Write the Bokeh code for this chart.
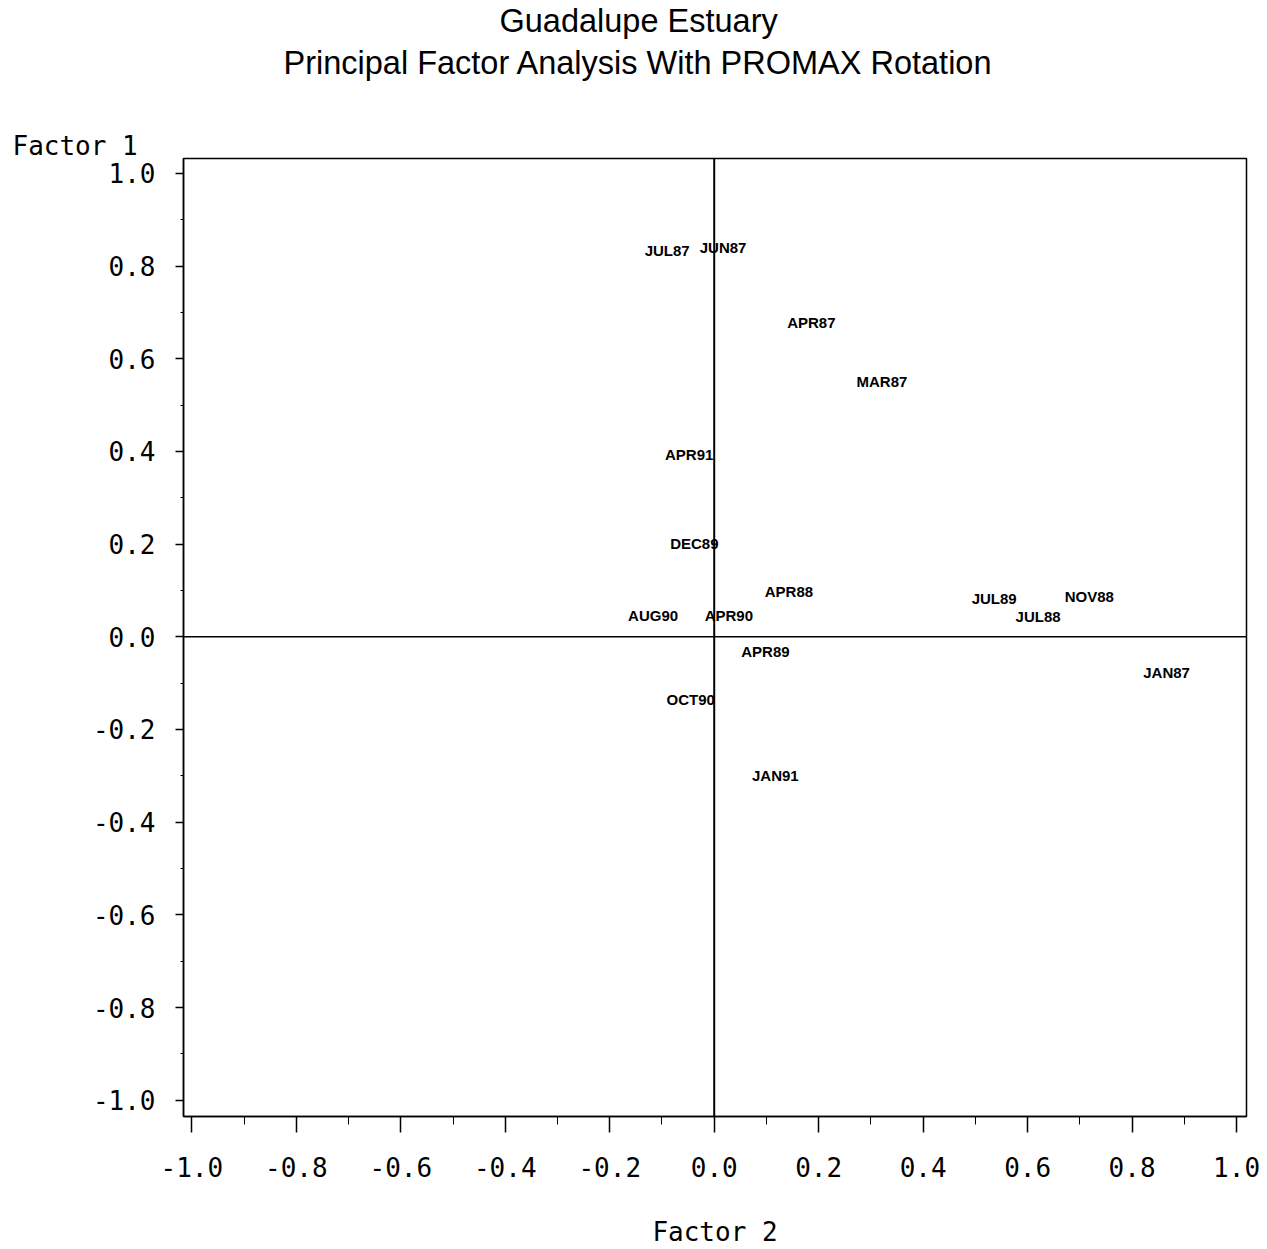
from bokeh.plotting import figure
from bokeh.models import ColumnDataSource, FixedTicker, Span, Range1d, Title
from bokeh.core.properties import value
from bokeh.embed import file_html
from bokeh.resources import INLINE

# Sampling dates and their rotated factor loadings
dates = ["JUL87", "JUN87", "APR87", "MAR87", "APR91", "DEC89", "APR88", "AUG90",
         "APR90", "JUL89", "NOV88", "JUL88", "APR89", "JAN87", "OCT90", "JAN91"]
factor2 = [-0.090, 0.017, 0.186, 0.321, -0.048, -0.038, 0.143, -0.117,
           0.028, 0.536, 0.718, 0.620, 0.098, 0.866, -0.045, 0.117]
factor1 = [0.833, 0.841, 0.679, 0.550, 0.393, 0.201, 0.097, 0.047,
           0.047, 0.082, 0.087, 0.043, -0.032, -0.076, -0.136, -0.300]

major_ticks = [-1.0, -0.8, -0.6, -0.4, -0.2, 0.0, 0.2, 0.4, 0.6, 0.8, 1.0]
minor_ticks = [-0.9, -0.7, -0.5, -0.3, -0.1, 0.1, 0.3, 0.5, 0.7, 0.9]
tick_labels = {t: f"{t:.1f}" for t in major_ticks}

mono = "DejaVu Sans Mono"
sans = "Liberation Sans"

p = figure(width=1267, height=1249, output_backend="svg", toolbar_location=None,
           x_range=Range1d(-1.016, 1.019), y_range=Range1d(-1.035, 1.032),
           min_border_left=183, min_border_right=21, min_border_top=10,
           min_border_bottom=10)
p.background_fill_color = "white"
p.border_fill_color = "white"
p.outline_line_color = "black"
p.outline_line_width = 1.5
p.xgrid.visible = False
p.ygrid.visible = False

for ax in (p.xaxis[0], p.yaxis[0]):
    ax.ticker = FixedTicker(ticks=major_ticks, minor_ticks=minor_ticks)
    ax.major_label_overrides = tick_labels
    ax.major_label_text_font = mono
    ax.major_label_text_font_size = "26px"
    ax.major_label_text_color = "black"
    ax.axis_line_color = "black"
    ax.axis_line_width = 1.5
    ax.major_tick_line_color = "black"
    ax.minor_tick_line_color = "black"
    ax.major_tick_line_width = 1.5
    ax.major_tick_in = 0
    ax.minor_tick_in = 0

p.xaxis.major_tick_out = 16
p.xaxis.minor_tick_out = 8
p.xaxis.major_label_standoff = 24
p.xaxis.axis_label = "Factor 2"
p.xaxis.axis_label_text_font = mono
p.xaxis.axis_label_text_font_size = "26px"
p.xaxis.axis_label_text_font_style = "normal"
p.xaxis.axis_label_text_color = "black"
p.xaxis.axis_label_standoff = 37
p.yaxis.major_tick_out = 8
p.yaxis.minor_tick_out = 3
p.yaxis.major_label_standoff = 20

# Reference axes through the origin
p.add_layout(Span(location=0, dimension="height", line_color="black", line_width=2))
p.add_layout(Span(location=0, dimension="width", line_color="black", line_width=1.5))

src = ColumnDataSource(dict(x=factor2, y=factor1, label=dates))
p.text(x="x", y="y", text="label", source=src, text_font=value(sans),
       text_font_style="bold", text_font_size="15px", text_color="black",
       text_align="center", text_baseline="middle")

# Header block, stacked outward from the frame:
# vertical-axis caption, a blank spacer, then the two title lines
def header(text, offset, standoff, font, size):
    return Title(text=text, align="left", offset=offset, standoff=standoff,
                 text_font=font, text_font_size=size, text_font_style="normal",
                 text_color="black")

p.add_layout(header("Factor 1", -171, -5, mono, "26px"), "above")
p.add_layout(header(" ", 0, 34, sans, "10px"), "above")
p.add_layout(header("Principal Factor Analysis With PROMAX Rotation", 100, 7, sans, "32.5px"),
             "above")
p.add_layout(header("Guadalupe Estuary", 316, 1, sans, "32.5px"), "above")

open("out.html", "w").write(file_html(p, INLINE))
